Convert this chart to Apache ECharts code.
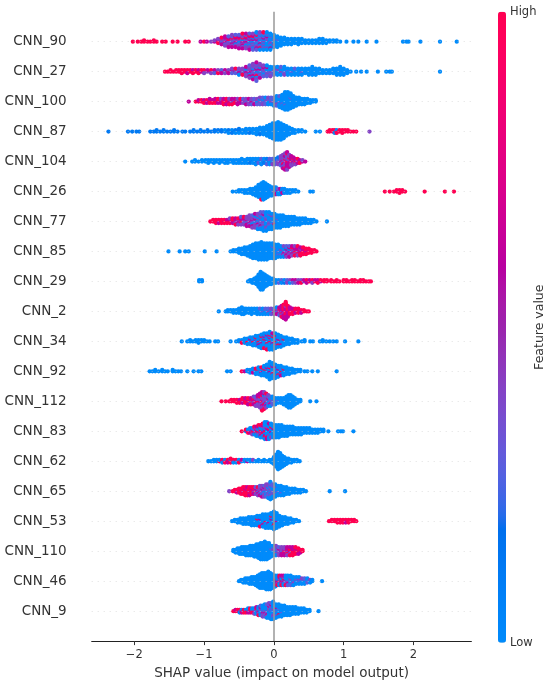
<!DOCTYPE html>
<html>
<head>
<meta charset="UTF-8">
<script src="https://cdn.jsdelivr.net/npm/echarts@6/dist/echarts.min.js"></script>
<style>html,body{margin:0;background:#fff}#c{width:550px;height:685px}</style>
</head>
<body>
<div id="c"></div>
<script>
// features, top to bottom
const features = ['CNN_90','CNN_27','CNN_100','CNN_87','CNN_104','CNN_26','CNN_77','CNN_85','CNN_29','CNN_2',
  'CNN_34','CNN_92','CNN_112','CNN_83','CNN_62','CNN_65','CNN_53','CNN_110','CNN_46','CNN_9'];

// [shap value, feature value of each sample at that value: b=low ... r=high]
const cnn90 = [[-2.02,'r'],[-1.95,'r'],[-1.9,'r'],[-1.86,'rr'],[-1.81,'r'],[-1.77,'r'],[-1.72,'rr'],[-1.68,'r'],[-1.6,'r'],[-1.55,'r'],[-1.45,'r'],[-1.38,'r'],[-1.27,'r'],[-1.22,'r'],[-1.05,'m'],[-1.0,'r'],[-0.96,'m'],[-0.9,'p'],[-0.85,'mp'],[-0.8,'pmrp'],[-0.75,'mpvpmr'],[-0.7,'rpmpvmpm'],[-0.65,'pmvrpmpvm'],[-0.6,'mpvpmrpvmp'],[-0.55,'pvmpbmprmv'],[-0.5,'mpbpvrpmpvm'],[-0.45,'pvmbprmpvpmr'],[-0.4,'bpmvpmbrpvpm'],[-0.35,'pvbmpvbmprpvm'],[-0.3,'vpbmpbvrpmbpv'],[-0.25,'bpvmbpvbprmpvb'],[-0.2,'pbvbmpbvpbrvbp'],[-0.15,'bvpbbmpvbbpvbr'],[-0.1,'vbbpbvbmbbpvbb'],[-0.05,'bbvbpbbvbbmbb'],[0,'bbbvbbpbbb'],[0.05,'bbbvbbbbb'],[0.1,'bbbbbbb'],[0.15,'bbbbbb'],[0.2,'bbbbb'],[0.25,'bbbbb'],[0.3,'bbbb'],[0.35,'bbbbb'],[0.4,'bbbb'],[0.45,'bbb'],[0.5,'bbb'],[0.55,'bbb'],[0.6,'bbb'],[0.65,'bbbb'],[0.7,'bbbb'],[0.75,'bbb'],[0.8,'bb'],[0.85,'bb'],[0.9,'bb'],[0.95,'b'],[1.04,'b'],[1.14,'b'],[1.21,'b'],[1.33,'b'],[1.47,'b'],[1.85,'b'],[1.9,'b'],[1.93,'b'],[2.1,'b'],[2.38,'b'],[2.62,'b']];
const cnn27 = [[-1.56,'r'],[-1.52,'r'],[-1.48,'rr'],[-1.44,'r'],[-1.4,'rr'],[-1.36,'rr'],[-1.32,'rrr'],[-1.28,'rr'],[-1.24,'rrm'],[-1.2,'rr'],[-1.16,'rmr'],[-1.12,'rr'],[-1.08,'rmr'],[-1.04,'mr'],[-1.0,'mrp'],[-0.95,'pm'],[-0.9,'mrp'],[-0.85,'pmv'],[-0.8,'mpr'],[-0.75,'pvm'],[-0.7,'pmp'],[-0.65,'rpm'],[-0.6,'pmvp'],[-0.55,'mpvr'],[-0.5,'pvmpb'],[-0.45,'mpvpr'],[-0.4,'pvmbpmp'],[-0.35,'vpmpbpmvp'],[-0.3,'pmvbpvmpbpm'],[-0.25,'vpbmpvrpbvpmv'],[-0.2,'pvbmpbvpmp'],[-0.15,'bpvpbmvp'],[-0.1,'pbvbpmvb'],[-0.05,'vbpbvbp'],[0,'bpvbvb'],[0.05,'bvbpbb'],[0.1,'vbpbbv'],[0.15,'bbvbpb'],[0.2,'bvbbb'],[0.25,'bbvbb'],[0.3,'bbbvb'],[0.35,'bbbbb'],[0.4,'bbvbb'],[0.45,'bbbb'],[0.5,'bbbbb'],[0.55,'bbbbbb'],[0.6,'bbbbb'],[0.65,'bbbb'],[0.7,'bbb'],[0.75,'bbb'],[0.8,'bbb'],[0.85,'bbbb'],[0.9,'bbbbb'],[0.95,'bbbbbb'],[1.0,'bbbbb'],[1.05,'bbb'],[1.1,'b'],[1.18,'b'],[1.25,'b'],[1.33,'b'],[1.49,'b'],[1.61,'b'],[1.66,'b'],[1.69,'b'],[2.38,'b']];
const cnn100 = [[-1.22,'m'],[-1.12,'r'],[-1.08,'rm'],[-1.04,'rr'],[-1.0,'rmr'],[-0.96,'rrm'],[-0.92,'mrrm'],[-0.88,'rmr'],[-0.84,'rmrm'],[-0.8,'mrmr'],[-0.76,'rrmp'],[-0.72,'mrrmr'],[-0.68,'rmrrm'],[-0.64,'mrmpr'],[-0.6,'rmpmr'],[-0.56,'mprm'],[-0.52,'prmpm'],[-0.48,'mpmr'],[-0.44,'pmpv'],[-0.4,'mpvpm'],[-0.36,'pvpmp'],[-0.32,'vpmpv'],[-0.28,'pvpvm'],[-0.24,'vpbpv'],[-0.2,'pvpbvp'],[-0.16,'vpvbpv'],[-0.12,'pbvpvb'],[-0.08,'vpbvbp'],[-0.04,'bvpvbv'],[0,'vbpvbvb'],[0.04,'bvbbpbvb'],[0.08,'bbvbbbbvb'],[0.12,'bbbbvbbbbbb'],[0.16,'bbbbbbvbbbbbbb'],[0.2,'bbbbbbbbbbbbbb'],[0.24,'bbbbbvbbbbbb'],[0.28,'bbbbbbbbb'],[0.32,'bbbbbbb'],[0.36,'bbbbbb'],[0.4,'bbbbb'],[0.44,'bbbbb'],[0.48,'bbbb'],[0.52,'bbb'],[0.56,'bb'],[0.6,'bb']];
const cnn87 = [[-2.37,'c'],[-2.09,'c'],[-2.03,'c'],[-1.97,'c'],[-1.93,'c'],[-1.77,'c'],[-1.72,'c'],[-1.68,'cc'],[-1.63,'c'],[-1.58,'cc'],[-1.53,'c'],[-1.48,'c'],[-1.43,'cc'],[-1.38,'c'],[-1.31,'c'],[-1.27,'c'],[-1.2,'c'],[-1.15,'cc'],[-1.1,'c'],[-1.05,'cc'],[-1.0,'c'],[-0.95,'cc'],[-0.9,'c'],[-0.85,'cc'],[-0.8,'bc'],[-0.75,'cc'],[-0.7,'cb'],[-0.65,'bcb'],[-0.6,'cbc'],[-0.55,'bcb'],[-0.5,'bcbc'],[-0.45,'cbb'],[-0.4,'bcbb'],[-0.35,'bbcb'],[-0.3,'bbbb'],[-0.25,'bbbbb'],[-0.2,'bbbbcb'],[-0.15,'bbbbbb'],[-0.1,'bbbbbbbb'],[-0.06,'bbbbbbbbbb'],[-0.02,'bbbbbbbbbbbb'],[0.02,'bbbbbbbbbbbbb'],[0.06,'bbbbbbbbbbbbbb'],[0.1,'bbbbbbbbbbbbb'],[0.14,'bbbbbbbbbbb'],[0.18,'bbbbbbbb'],[0.22,'bbbbbb'],[0.26,'bbbb'],[0.3,'bbb'],[0.35,'bb'],[0.4,'bb'],[0.45,'b'],[0.6,'b'],[0.66,'b'],[0.77,'r'],[0.8,'rr'],[0.84,'rr'],[0.87,'rrb'],[0.9,'rbr'],[0.94,'rr'],[0.98,'rrr'],[1.02,'rr'],[1.06,'rr'],[1.1,'r'],[1.14,'r'],[1.18,'r'],[1.37,'p']];
const cnn104 = [[-1.27,'b'],[-1.17,'b'],[-1.13,'bb'],[-1.08,'b'],[-1.03,'bb'],[-0.98,'bb'],[-0.94,'bbb'],[-0.9,'bb'],[-0.86,'bbb'],[-0.82,'bb'],[-0.78,'bbb'],[-0.74,'bb'],[-0.7,'bbb'],[-0.66,'bbb'],[-0.62,'bb'],[-0.58,'bbb'],[-0.54,'bbb'],[-0.5,'bbb'],[-0.46,'bbbb'],[-0.42,'bbb'],[-0.38,'bbbb'],[-0.34,'bbcb'],[-0.3,'bcbb'],[-0.26,'bbcbb'],[-0.22,'cbvb'],[-0.18,'bcbvb'],[-0.14,'vbcb'],[-0.1,'bvbcv'],[-0.06,'cvbvb'],[-0.02,'vbcvp'],[0.02,'vpvcv'],[0.06,'pvpvpc'],[0.1,'vpmpvpvp'],[0.13,'pmvprpmpvpm'],[0.16,'mpmrpvpmpmrpm'],[0.19,'pmrpmpmvmpmrpm'],[0.22,'mpmpmrmpmp'],[0.25,'pmrmpmpm'],[0.28,'mpmrpm'],[0.31,'pmrmp'],[0.34,'mpmr'],[0.37,'pmr'],[0.41,'mp'],[0.45,'m']];
const cnn26 = [[-0.59,'b'],[-0.54,'b'],[-0.5,'bb'],[-0.46,'bb'],[-0.42,'bbb'],[-0.38,'bbb'],[-0.34,'bbbb'],[-0.3,'bbbbb'],[-0.26,'bbbbbbb'],[-0.22,'bbbbbbbbbb'],[-0.18,'bbbbbbbbbbbbr'],[-0.15,'bbbbbbbbbbbbbb'],[-0.12,'bbbbbbbbbbbb'],[-0.09,'bbbbbbbbbb'],[-0.06,'bbbbbbbb'],[-0.03,'bbbvbbb'],[0,'bbpbbb'],[0.03,'bbvbmb'],[0.06,'bmbvb'],[0.09,'bvbmb'],[0.12,'bbmb'],[0.15,'bvbb'],[0.19,'bbb'],[0.23,'bbb'],[0.27,'bb'],[0.31,'bb'],[0.35,'b'],[0.52,'b'],[0.56,'b'],[1.59,'r'],[1.66,'r'],[1.72,'r'],[1.76,'rr'],[1.8,'rrr'],[1.84,'rr'],[1.88,'r'],[2.16,'r'],[2.45,'r'],[2.58,'r']];
const cnn77 = [[-0.91,'r'],[-0.87,'rr'],[-0.83,'rrr'],[-0.79,'rrm'],[-0.75,'rrr'],[-0.71,'mrr'],[-0.67,'rmr'],[-0.63,'rmrp'],[-0.59,'mrmr'],[-0.55,'rmpmr'],[-0.51,'mpmrp'],[-0.47,'pmrmpv'],[-0.43,'mpvmpr'],[-0.39,'pmvpmpm'],[-0.35,'vpmpvpmp'],[-0.31,'pmvpbpmvp'],[-0.27,'vpbmpvpbpm'],[-0.23,'pbvpmbvpvpb'],[-0.19,'bvpbvpmbvpbv'],[-0.15,'vbpbvbpvbmbvb'],[-0.11,'bvbpbvbbpbvbb'],[-0.07,'bbvbpbvbbvbb'],[-0.03,'bvbbvbbpbbb'],[0.01,'bbvbrbbvbb'],[0.05,'bbbvbbbbb'],[0.09,'bbbbbbbbb'],[0.13,'bbbbbbbb'],[0.17,'bbbbbbb'],[0.21,'bbbbbbb'],[0.25,'bbbbbb'],[0.29,'bbbbbb'],[0.33,'bbbbb'],[0.37,'bbbbb'],[0.41,'bbbb'],[0.45,'bbbb'],[0.49,'bbb'],[0.53,'bbb'],[0.57,'bb'],[0.61,'b'],[0.76,'b']];
const cnn85 = [[-1.51,'b'],[-1.35,'b'],[-1.27,'b'],[-1.22,'b'],[-0.99,'b'],[-0.82,'b'],[-0.62,'b'],[-0.58,'bb'],[-0.54,'bb'],[-0.5,'bbbb'],[-0.46,'bbbbb'],[-0.42,'bbbbbb'],[-0.38,'bbbbbbb'],[-0.34,'bbbbbbbbb'],[-0.3,'bbbbbbbbbbb'],[-0.26,'bbbbbbbbbbbb'],[-0.22,'bbbbbbbbbbbbb'],[-0.18,'bbbbbbbbbbbbbb'],[-0.14,'bbbbbbbbbbbbb'],[-0.1,'bbbbbbbbbbbbb'],[-0.06,'bbbbbbbbbbbb'],[-0.02,'bbbbbbbvbbbb'],[0.02,'bbbbbvbbbbb'],[0.06,'bbvbbbvbbb'],[0.1,'bvbpbbvbb'],[0.14,'bvpbmbvpb'],[0.18,'pbvmpbmvp'],[0.22,'vpmbpmpvm'],[0.26,'pmvpmrpm'],[0.3,'mprmpmrp'],[0.34,'rmpmrmpr'],[0.38,'mrmprmr'],[0.42,'rmrmrr'],[0.46,'rrmrr'],[0.5,'rmrr'],[0.54,'rrr'],[0.58,'rr'],[0.61,'r']];
const cnn29 = [[-1.07,'bb'],[-1.03,'bb'],[-0.37,'b'],[-0.34,'bb'],[-0.31,'bbb'],[-0.28,'bbbb'],[-0.25,'bbbbbb'],[-0.22,'bbbbbbbbbb'],[-0.19,'bbbbbbbbbbbbbb'],[-0.16,'bbbbbbbbbbbbb'],[-0.13,'bbbbbbbbbb'],[-0.1,'bbbbbbbb'],[-0.07,'bbbbbb'],[-0.04,'bbbbb'],[-0.01,'bbbb'],[0.03,'bbb'],[0.07,'bbv'],[0.11,'bvb'],[0.15,'vbc'],[0.19,'bvp'],[0.23,'vpb'],[0.27,'pmv'],[0.31,'pmp'],[0.35,'mpm'],[0.39,'mpr'],[0.43,'pm'],[0.47,'mrm'],[0.51,'rm'],[0.55,'mrp'],[0.59,'rm'],[0.63,'rmr'],[0.67,'mr'],[0.72,'rr'],[0.76,'rr'],[0.82,'rr'],[0.86,'r'],[0.9,'rr'],[0.94,'r'],[1.0,'rr'],[1.04,'rr'],[1.08,'r'],[1.12,'rr'],[1.16,'rr'],[1.2,'r'],[1.24,'rr'],[1.28,'rr'],[1.32,'r'],[1.36,'r'],[1.39,'r']];
const cnn2 = [[-0.79,'b'],[-0.69,'b'],[-0.66,'bb'],[-0.62,'bb'],[-0.58,'bbb'],[-0.54,'bbb'],[-0.5,'bbbb'],[-0.46,'bbbbbb'],[-0.43,'bbbbb'],[-0.4,'bbbb'],[-0.36,'bbbb'],[-0.32,'bbbbb'],[-0.28,'bbbb'],[-0.24,'bbbbb'],[-0.2,'bbbvb'],[-0.16,'bbvbb'],[-0.12,'bvbvb'],[-0.08,'vbpvb'],[-0.04,'pvbpv'],[0,'vpmvp'],[0.04,'pmvpmb'],[0.08,'mpmrpmv'],[0.11,'rmpmrmpmr'],[0.14,'mrmrprmrmrm'],[0.17,'rmrmrmrpmrmrmr'],[0.2,'mrmrmrmrm'],[0.23,'rmrmrm'],[0.27,'mrrmr'],[0.31,'rrmr'],[0.35,'rmrr'],[0.39,'rrm'],[0.43,'rr'],[0.47,'r'],[0.5,'r']];
const cnn34 = [[-1.32,'b'],[-1.24,'b'],[-1.2,'bb'],[-1.16,'b'],[-1.12,'bb'],[-1.08,'bbb'],[-1.04,'bb'],[-1.0,'bb'],[-0.96,'b'],[-0.92,'b'],[-0.84,'b'],[-0.8,'b'],[-0.62,'b'],[-0.54,'b'],[-0.5,'bb'],[-0.46,'bbr'],[-0.42,'bbbb'],[-0.38,'bbrbb'],[-0.34,'bbbmbb'],[-0.3,'bbrbbbb'],[-0.26,'bmbbbrbb'],[-0.22,'bbrbbbmbb'],[-0.18,'brbbmbbrbbb'],[-0.14,'bbbrbbbmbbrb'],[-0.1,'bmbbrbbbbmbbr'],[-0.06,'bbrbbmbbbrbbbb'],[-0.02,'rbbbmbbrbbbmb'],[0.02,'bbrbbbpbbrbb'],[0.06,'bbbmbbrbbb'],[0.1,'brbbbbmbb'],[0.14,'bbbrbbb'],[0.18,'bbbbbb'],[0.22,'bbbbb'],[0.26,'bbbb'],[0.3,'bbb'],[0.34,'bbb'],[0.4,'b'],[0.44,'bb'],[0.52,'b'],[0.56,'b'],[0.66,'b'],[0.7,'bb'],[0.75,'b'],[0.8,'b'],[0.85,'b'],[0.9,'b'],[1.02,'b'],[1.21,'b']];
const cnn92 = [[-1.78,'b'],[-1.74,'b'],[-1.7,'bb'],[-1.65,'b'],[-1.6,'bb'],[-1.56,'b'],[-1.52,'b'],[-1.45,'bb'],[-1.41,'b'],[-1.37,'b'],[-1.33,'b'],[-1.24,'b'],[-1.15,'b'],[-1.08,'b'],[-1.04,'b'],[-0.67,'b'],[-0.62,'b'],[-0.46,'r'],[-0.42,'m'],[-0.38,'bb'],[-0.34,'rbb'],[-0.3,'bbmb'],[-0.26,'bbbrb'],[-0.22,'brbbbb'],[-0.18,'bbmbbrb'],[-0.14,'bbbrbbbb'],[-0.1,'brbbbmbbbb'],[-0.06,'bbmbbrbbbbbbbb'],[-0.02,'bbbbrbbmbbbb'],[0.02,'brbbbbbmbbb'],[0.06,'bbbmbbrbb'],[0.1,'bbrbbbmb'],[0.14,'bbbrbbb'],[0.18,'bbbbbb'],[0.22,'bbbbb'],[0.26,'bbbb'],[0.3,'bbb'],[0.34,'bb'],[0.38,'bb'],[0.44,'b'],[0.48,'b'],[0.55,'b'],[0.63,'b'],[0.9,'b']];
const cnn112 = [[-0.75,'r'],[-0.69,'r'],[-0.64,'r'],[-0.61,'rr'],[-0.57,'rr'],[-0.53,'rrr'],[-0.49,'rmr'],[-0.45,'rrmr'],[-0.41,'mrrm'],[-0.37,'rmrrm'],[-0.33,'mrpmr'],[-0.29,'rmprmp'],[-0.26,'pmrpmvp'],[-0.23,'mprpvmpm'],[-0.2,'rpmvprpmpm'],[-0.17,'pmrpvpmrpmpmr'],[-0.14,'mpvprpmbpmrp'],[-0.11,'pvmpbpmvpr'],[-0.08,'vpbmpvbp'],[-0.05,'bvpbmvb'],[-0.02,'bpvbvb'],[0.02,'bbvbb'],[0.06,'bvbb'],[0.1,'bbbb'],[0.14,'bbbbb'],[0.18,'bbbbbbb'],[0.21,'bbbbbbbbb'],[0.24,'bbbbbbbbb'],[0.27,'bbbbbbb'],[0.3,'bbbbb'],[0.34,'bbb'],[0.38,'bb'],[0.52,'b'],[0.61,'b']];
const cnn83 = [[-0.46,'r'],[-0.4,'br'],[-0.37,'mbr'],[-0.34,'rbmb'],[-0.31,'bmrbp'],[-0.28,'rbmpbr'],[-0.25,'bmrpbmb'],[-0.22,'mbrbpmbr'],[-0.19,'brmbpbmrb'],[-0.16,'rbmbrpbmbr'],[-0.13,'bmrbbpmbrbbb'],[-0.1,'rbbmbpbbrbmb'],[-0.07,'bmbrbbpbbmb'],[-0.04,'bbmbbrbbpb'],[-0.01,'bbbmbbbbb'],[0.03,'bbbbbbbbb'],[0.07,'bbbbbbbbb'],[0.11,'bbbbbbbb'],[0.15,'bbbbbbb'],[0.19,'bbbbbbb'],[0.23,'bbbbbb'],[0.27,'bbbbbb'],[0.31,'bbbbb'],[0.35,'bbbbb'],[0.39,'bbbbb'],[0.43,'bbbb'],[0.47,'bbbb'],[0.51,'bbbb'],[0.55,'bbb'],[0.59,'bbb'],[0.63,'bbb'],[0.67,'bb'],[0.71,'bb'],[0.78,'b'],[0.92,'b'],[0.96,'b'],[0.99,'b'],[1.14,'b']];
const cnn62 = [[-0.94,'b'],[-0.9,'b'],[-0.86,'bb'],[-0.82,'bb'],[-0.78,'rb'],[-0.74,'rrb'],[-0.7,'rbr'],[-0.66,'rrm'],[-0.62,'rbrr'],[-0.58,'rrb'],[-0.54,'mrb'],[-0.5,'rbr'],[-0.46,'bm'],[-0.42,'bb'],[-0.38,'mb'],[-0.34,'bb'],[-0.3,'bp'],[-0.26,'b'],[-0.22,'bb'],[-0.18,'b'],[-0.14,'bb'],[-0.1,'b'],[-0.06,'bb'],[-0.03,'bbb'],[0,'bbbbbb'],[0.03,'bbbbbbbbbb'],[0.06,'bbbbbbbbbbbbbb'],[0.09,'bbbbbbbbbbbb'],[0.12,'bbbbbbbbb'],[0.15,'bbbbbbb'],[0.18,'bbbbb'],[0.21,'bbbb'],[0.25,'bbb'],[0.29,'bb'],[0.33,'bb'],[0.37,'b']];
const cnn65 = [[-0.64,'p'],[-0.59,'r'],[-0.56,'rr'],[-0.53,'rrm'],[-0.5,'rrrr'],[-0.47,'rmrrr'],[-0.44,'rrmrrr'],[-0.41,'rrrmrrr'],[-0.38,'rmrrrmr'],[-0.35,'rrmrrrm'],[-0.32,'mrrmrr'],[-0.29,'rmprmr'],[-0.26,'mprmpv'],[-0.23,'pmvpmrp'],[-0.2,'vpmpvpmv'],[-0.17,'pvpmvpbpm'],[-0.14,'vpbpvmpvp'],[-0.11,'pvbpvpbpvp'],[-0.08,'vpbvpbvpvpb'],[-0.05,'pbvpbvpbvpbvbb'],[-0.02,'bvpbvbpvbvb'],[0.02,'bvbbvbbpbb'],[0.06,'bbvbbbbb'],[0.1,'bbbbvbbb'],[0.14,'bbbbbbb'],[0.18,'bbbbbb'],[0.22,'bbbbb'],[0.26,'bbbb'],[0.3,'bbbb'],[0.34,'bbb'],[0.38,'bbb'],[0.42,'bb'],[0.46,'b'],[0.8,'b'],[1.02,'b']];
const cnn53 = [[-0.6,'b'],[-0.56,'bb'],[-0.52,'bbb'],[-0.48,'bbbb'],[-0.44,'bbbbb'],[-0.4,'bbbbb'],[-0.36,'bbbbbb'],[-0.32,'bbbbbbb'],[-0.28,'bbbbbbb'],[-0.24,'bbbrbbbb'],[-0.2,'bbbmbbbbr'],[-0.16,'bbbbbbmbbb'],[-0.12,'bbrbbbbbbbb'],[-0.08,'bbbbmbbbbbb'],[-0.04,'bbbmbbbrbbbb'],[0,'bbbbbbrbbbbbbb'],[0.04,'bbmbbbbbbbbb'],[0.08,'bbbbbbbbb'],[0.12,'bbbbbbb'],[0.16,'bbbbbb'],[0.2,'bbbbb'],[0.24,'bbbb'],[0.28,'bbb'],[0.32,'bb'],[0.36,'b'],[0.79,'r'],[0.83,'rr'],[0.87,'rr'],[0.91,'rrr'],[0.95,'rrr'],[0.99,'rrr'],[1.03,'rrm'],[1.07,'rrr'],[1.11,'rr'],[1.15,'rr'],[1.18,'r']];
const cnn110 = [[-0.58,'bb'],[-0.55,'bbb'],[-0.52,'bbbb'],[-0.49,'bbbbb'],[-0.46,'bbbbbb'],[-0.43,'bbbbbb'],[-0.4,'bbbbbbb'],[-0.37,'bbbbbbb'],[-0.34,'bbbbbbbb'],[-0.31,'bbbbbbbb'],[-0.28,'bbbbbbbbb'],[-0.25,'bbbbbbbbbb'],[-0.22,'bbbbbbbbbbb'],[-0.19,'bbbbbbbbbbbbb'],[-0.16,'bbbbbbbbbbbbb'],[-0.13,'bbbbbbbbbbbbbb'],[-0.1,'bbbbbbbbbbbbb'],[-0.07,'bbbbbbbbbbbb'],[-0.04,'bbbvbbbbb'],[-0.01,'bvbpbvbb'],[0.03,'vpbvpvbp'],[0.07,'pvpmpvp'],[0.11,'mpvpmpm'],[0.15,'pmrpmpm'],[0.19,'rmpmrmp'],[0.23,'mrmrpmr'],[0.27,'rmrmrmr'],[0.31,'mrrmrr'],[0.35,'rmrrm'],[0.38,'rrm'],[0.41,'rr']];
const cnn46 = [[-0.5,'b'],[-0.47,'bb'],[-0.44,'bbb'],[-0.41,'bbbb'],[-0.38,'bbbb'],[-0.35,'bbbbb'],[-0.32,'bbbbbb'],[-0.29,'bbbbbb'],[-0.26,'bbbbbbb'],[-0.23,'bbbbbbbbb'],[-0.2,'bbbbbbbbbbb'],[-0.17,'bbbbbbbbbbbb'],[-0.14,'bbbbbbbbbbbb'],[-0.11,'bbbbbbbbbbbbb'],[-0.08,'bbbbbbbbbbbbbb'],[-0.05,'bbbbbbbbbbbbb'],[-0.02,'bbbbbbbbbbb'],[0.02,'bmbrbbpbb'],[0.05,'rbmbpbrb'],[0.08,'mbrpbmbr'],[0.11,'brmbpbrm'],[0.14,'pbmrbvbm'],[0.17,'bmpbvbrb'],[0.2,'vbpbmbvb'],[0.24,'bvbpbbvb'],[0.28,'bbvbpbb'],[0.32,'bpbvbb'],[0.36,'bbvpbb'],[0.4,'bvbpb'],[0.44,'bpbvb'],[0.48,'bbvb'],[0.52,'bpb'],[0.55,'bb'],[0.69,'b']];
const cnn9 = [[-0.58,'r'],[-0.55,'rm'],[-0.52,'rr'],[-0.49,'mrb'],[-0.46,'rbm'],[-0.43,'brr'],[-0.4,'mbr'],[-0.37,'rbmb'],[-0.34,'brmr'],[-0.31,'mbrb'],[-0.28,'rbmbp'],[-0.25,'bpbrbm'],[-0.22,'pbmbvbr'],[-0.19,'bvbpbmbv'],[-0.16,'vbpbmbvbp'],[-0.13,'bpvbmbpbvb'],[-0.1,'vbpbvbmbpvb'],[-0.07,'bvbpbvbmbvbp'],[-0.04,'pbvbbpbvbmbvb'],[-0.01,'bvbpbbvbpbvbbb'],[0.03,'bbvbbmbbvbb'],[0.07,'bbbvbbrbbb'],[0.11,'bbbbvbbbb'],[0.15,'bbbbbbbb'],[0.19,'bbbbbbb'],[0.23,'bbbbbbb'],[0.27,'bbbbbb'],[0.31,'bbbbbb'],[0.35,'bbbbb'],[0.39,'bbbb'],[0.43,'bbbb'],[0.47,'bbb'],[0.51,'bb'],[0.64,'b']];

const rows = [cnn90, cnn27, cnn100, cnn87, cnn104, cnn26, cnn77, cnn85, cnn29, cnn2,
  cnn34, cnn92, cnn112, cnn83, cnn62, cnn65, cnn53, cnn110, cnn46, cnn9];
const levelCodes = { b: 0, c: 0.12, v: 0.28, p: 0.4, m: 0.62, r: 1 };
const xTicks = [-2, -1, 0, 1, 2];

// shap's red_blue colour map, interpolated in Lch
function lch2rgb(L, C, H) {
    const a = C * Math.cos(H), b = C * Math.sin(H);
    const fy = (L + 16) / 116, fx = fy + a / 500, fz = fy - b / 200;
    const finv = t => t > 6 / 29 ? t * t * t : 3 * (6 / 29) * (6 / 29) * (t - 4 / 29);
    const X = 0.95047 * finv(fx), Y = finv(fy), Z = 1.08883 * finv(fz);
    const lin = [
        3.2406 * X - 1.5372 * Y - 0.4986 * Z,
        -0.9689 * X + 1.8758 * Y + 0.0415 * Z,
        0.0557 * X - 0.2040 * Y + 1.0570 * Z
    ];
    const rgb = lin.map(c => {
        c = c <= 0.0031308 ? 12.92 * c : 1.055 * Math.pow(c, 1 / 2.4) - 0.055;
        return Math.round(255 * Math.min(1, Math.max(0, c)));
    });
    return `rgb(${rgb.join(',')})`;
}
const cmap = [];
for (let i = 0; i < 100; i++) {
    const t = i / 99;
    const L = i < 50 ? 54 - 14 * (i / 49) : 40 + 14 * ((i - 50) / 49);
    cmap.push(lch2rgb(L, 70 + 20 * t, 4.6588 + (0.35470565 + 2 * Math.PI - 4.6588) * t));
}

// beeswarm stacking like shap: alternate layers above / below the row
const nRows = features.length;
const points = [];
rows.forEach((row, k) => {
    const yRow = nRows - k;   // CNN_90 on top
    let maxOff = 0;
    row.forEach(([, s]) => { maxOff = Math.max(maxOff, Math.ceil((s.length - 1) / 2)); });
    const step = 0.36 / (maxOff + 1);
    row.forEach(([x, s]) => {
        for (let j = 0; j < s.length; j++) {
            const off = Math.ceil(j / 2) * ((j % 2) * 2 - 1);
            points.push([x, yRow + off * step, levelCodes[s[j]]]);
        }
    });
});

const FONT = 'DejaVu Sans';
const chart = echarts.init(document.getElementById('c'), null, { renderer: 'canvas' });
chart.setOption({
    animation: false,
    grid: { left: 91.7, right: 78.6, top: 11.7, bottom: 42.3 },
    xAxis: {
        type: 'value', min: -2.61, max: 2.83,
        axisLine: { onZero: false, lineStyle: { color: '#222', width: 1 } },
        axisTick: { show: true, customValues: xTicks, length: 4, lineStyle: { color: '#333' } },
        axisLabel: {
            customValues: xTicks, fontSize: 11.5, fontFamily: FONT, color: '#333', margin: 8,
            formatter: v => v < 0 ? '\u2212' + Math.abs(v) : String(v)
        },
        splitLine: { show: false },
        name: 'SHAP value (impact on model output)', nameLocation: 'middle', nameGap: 23,
        nameTextStyle: { fontSize: 13.5, fontFamily: FONT, color: '#333' }
    },
    yAxis: {
        type: 'value', min: 0, max: nRows + 1, interval: 1,
        axisLine: { show: false }, axisTick: { show: false }, splitLine: { show: false },
        axisLabel: {
            fontSize: 13.5, fontFamily: FONT, color: '#333', margin: 25,
            formatter: v => (v >= 1 && v <= nRows) ? features[nRows - v] : ''
        }
    },
    visualMap: {
        type: 'continuous', min: 0, max: 1, dimension: 2, seriesIndex: 1,
        inRange: { color: cmap }, show: true, calculable: false, hoverLink: false,
        orient: 'vertical', left: 498, top: 11.7, itemWidth: 8, itemHeight: 631, padding: 0
    },
    graphic: [
        { type: 'text', x: 510, y: 11.7, style: { text: 'High', fontSize: 11.5, fontFamily: FONT, fill: '#333', verticalAlign: 'middle' } },
        { type: 'text', x: 510, y: 642.7, style: { text: 'Low', fontSize: 11.5, fontFamily: FONT, fill: '#333', verticalAlign: 'middle' } },
        { type: 'text', x: 540, y: 327.2, rotation: Math.PI / 2, style: { text: 'Feature value', fontSize: 12.5, fontFamily: FONT, fill: '#333', align: 'center', verticalAlign: 'middle' } }
    ],
    series: [
        {
            type: 'scatter', data: [], z: 1, silent: true,
            markLine: {
                silent: true, symbol: 'none', label: { show: false }, animation: false,
                data: [
                    { xAxis: 0, lineStyle: { color: '#999', width: 1.5, type: 'solid' } },
                    ...features.map((f, i) => ({ yAxis: i + 1, lineStyle: { color: '#ccc', width: 0.6, type: [1, 5] } }))
                ]
            }
        },
        {
            type: 'scatter', data: points, symbolSize: 4.3, z: 3, silent: true,
            itemStyle: { opacity: 1, borderWidth: 0 }
        }
    ]
});
</script>
</body>
</html>
